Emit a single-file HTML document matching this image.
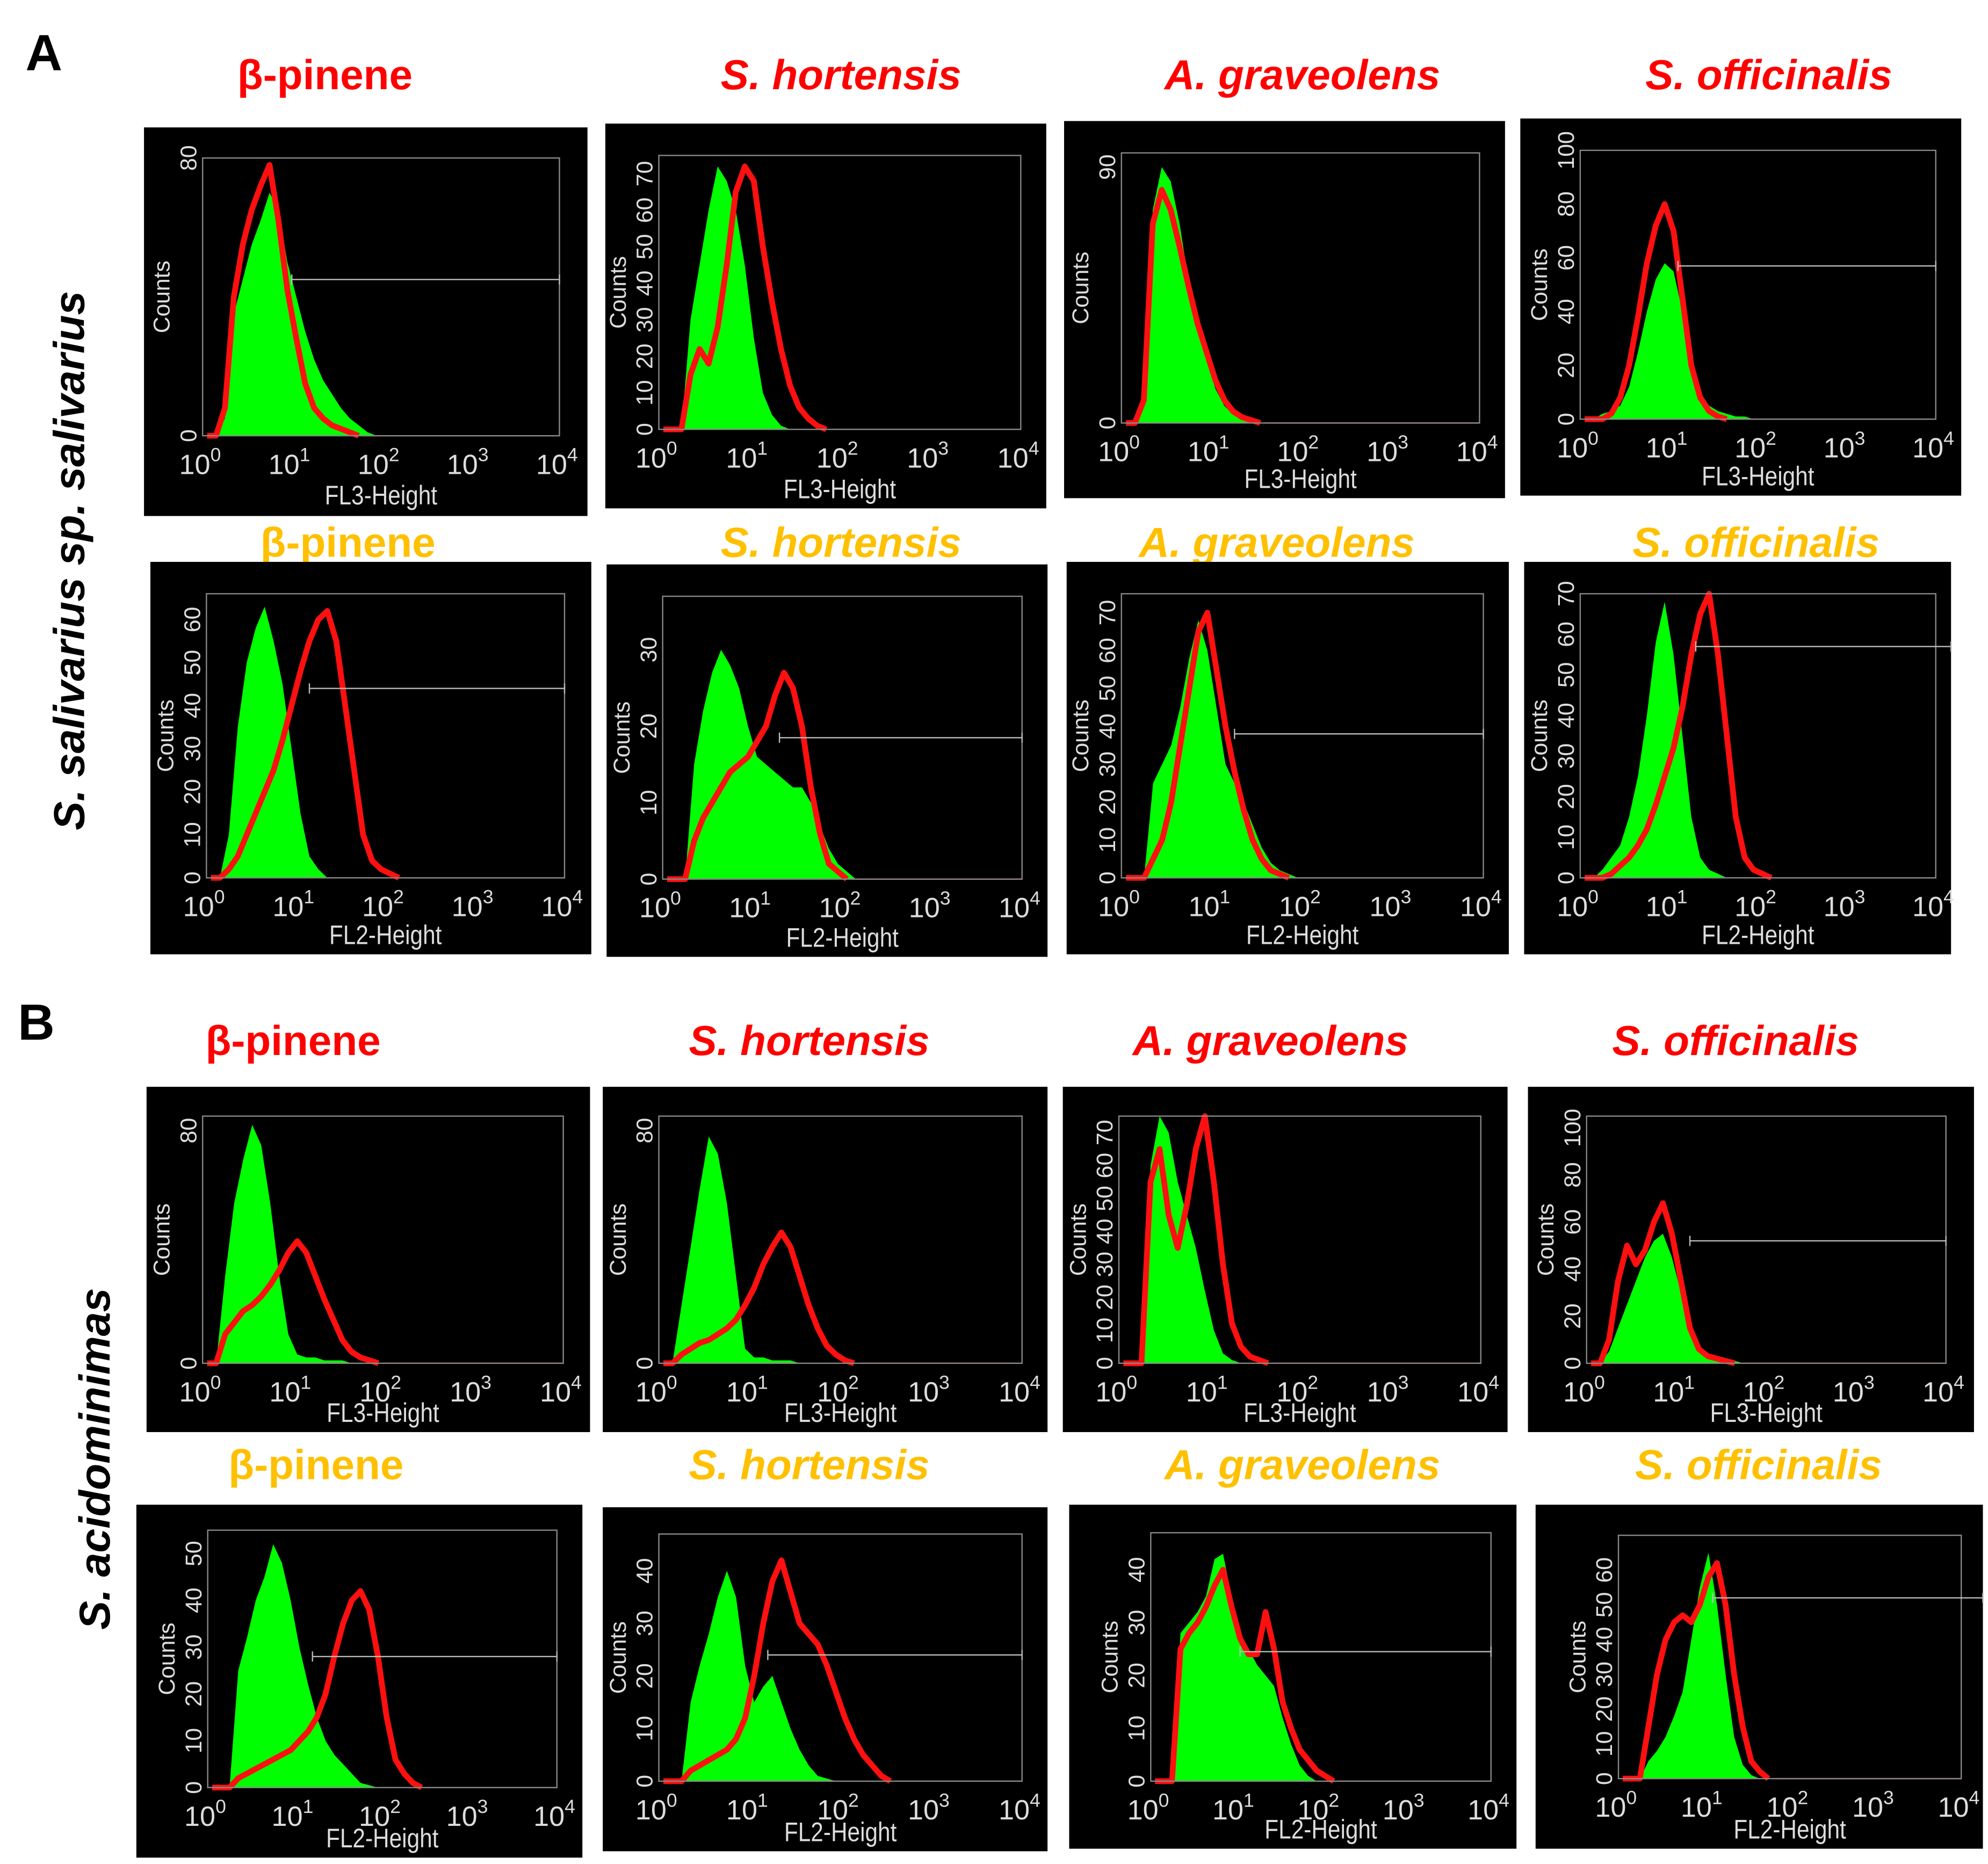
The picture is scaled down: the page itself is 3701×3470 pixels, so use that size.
<!DOCTYPE html>
<html><head><meta charset="utf-8"><style>
html,body{margin:0;padding:0;background:#fff;}
svg{display:block;}
</style></head><body>
<svg id="fig" xmlns="http://www.w3.org/2000/svg" width="3701" height="3470" viewBox="0 0 1560 1463" preserveAspectRatio="none">
<rect x="0" y="0" width="1560" height="1463" fill="#fff"/>
<text x="20" y="55" font-family="Liberation Sans, sans-serif" font-weight="bold" font-size="40" fill="#000">A</text>
<text x="14" y="816" font-family="Liberation Sans, sans-serif" font-weight="bold" font-size="40" fill="#000">B</text>
<text transform="translate(66,440) rotate(-90)" text-anchor="middle" font-family="Liberation Sans, sans-serif" font-weight="bold" font-style="italic" font-size="34" fill="#000">S. salivarius sp. salivarius</text>
<text transform="translate(86,1145) rotate(-90)" text-anchor="middle" font-family="Liberation Sans, sans-serif" font-weight="bold" font-style="italic" font-size="34" fill="#000">S. acidominimas</text>
<g id="panels"></g>
</svg>
<script>
// histogram data: counts per 0.1-decade bin, log10 from 0.0 to 4.0
const g1=[0,0,5,35,45,55,62,70,65,50,40,30,22,16,12,8,5,3,1,0];
const r1=[0,0,8,40,55,65,72,78,62,42,28,15,8,5,3,2,1,0];
const g2=[0,0,0,30,45,60,72,68,60,45,25,10,4,1,0];
const r2=[0,0,0,15,22,18,28,45,65,72,68,50,35,22,12,6,3,1,0];
const g3=[0,0,10,75,90,85,70,50,35,22,12,6,3,1,0];
const r3=[0,0,8,70,82,75,62,48,35,25,15,8,4,2,1,0];
const g4=[0,0,2,3,5,12,25,40,52,58,55,40,22,10,5,3,2,1,1,0];
const r4=[0,0,0,2,8,20,38,58,72,80,70,45,20,8,3,1,0];
const g5=[0,0,10,35,50,58,63,55,45,30,15,5,2,0];
const r5=[0,0,2,5,10,15,20,25,32,40,48,55,60,62,55,40,25,10,4,2,1,0];
const g6=[0,0,0,15,22,27,30,28,25,20,16,15,14,13,12,12,10,7,4,2,1,0];
const r6=[0,0,0,5,8,10,12,14,15,16,18,20,24,27,25,20,12,6,2,1,0];
const g7=[0,0,0,25,30,35,45,58,68,60,45,30,25,20,14,8,4,2,1,0];
const r7=[0,0,0,5,10,20,35,50,65,70,55,40,28,18,10,5,2,1,0];
const g8=[0,0,2,5,8,15,25,40,58,68,55,35,15,5,2,1,0];
const r8=[0,0,0,1,3,5,8,12,18,25,32,42,55,65,70,55,35,15,5,2,1,0];
const g9=[0,0,30,55,70,82,75,55,30,10,3,2,2,1,1,1,0];
const r9=[0,0,10,14,18,20,23,27,32,38,42,38,30,22,15,8,4,2,1,0];
const g10=[0,0,20,40,60,78,72,55,30,5,2,2,1,1,1,0];
const r10=[0,0,3,5,7,8,10,12,15,20,26,34,40,45,40,30,20,12,6,3,1,0];
const g11=[0,0,0,60,75,70,55,45,35,22,10,3,1,0];
const r11=[0,0,0,55,65,45,35,48,65,75,55,30,12,5,2,1,0];
const g12=[0,0,5,15,25,35,45,52,55,45,30,12,5,3,2,1,1,0];
const r12=[0,0,10,35,50,42,48,60,68,55,35,15,6,3,2,1,0];
const g13=[0,0,0,25,32,40,45,52,48,40,30,22,15,10,7,5,3,1,0.5,0];
const r13=[0,0,0,2,3,4,5,6,7,8,10,12,15,20,28,35,40,42,38,28,15,6,3,1,0];
const g14=[0,0,0,15,22,28,35,40,35,22,15,18,20,15,10,6,3,1,0.5,0];
const r14=[0,0,0,2,3,4,5,6,8,12,20,30,38,42,36,30,28,26,22,17,12,8,5,3,1,0];
const g15=[0,0,0,28,30,32,35,42,43,35,28,25,22,20,18,12,7,3,1,0];
const r15=[0,0,0,25,28,30,33,37,40,33,27,24,24,32,25,15,10,6,4,2,1,0];
const g16=[0,0,0,5,8,12,18,25,40,55,65,50,30,12,4,1,0];
const r16=[0,0,0,15,30,40,45,47,45,50,58,62,50,30,15,5,2,0];
const greens=[g1,g2,g3,g4,g5,g6,g7,g8,g9,g10,g11,g12,g13,g14,g15,g16];
const reds=[r1,r2,r3,r4,r5,r6,r7,r8,r9,r10,r11,r12,r13,r14,r15,r16];
const titles=["β-pinene","S. hortensis","A. graveolens","S. officinalis","β-pinene","S. hortensis","A. graveolens","S. officinalis","β-pinene","S. hortensis","A. graveolens","S. officinalis","β-pinene","S. hortensis","A. graveolens","S. officinalis"];
const yMaxes=[80,75,95,100,66,37,75,70,85,85,75,105,55,47,47,70];
const yTicks=[[0,80],[0,10,20,30,40,50,60,70],[0,90],[0,20,40,60,80,100],[0,10,20,30,40,50,60],[0,10,20,30],[0,10,20,30,40,50,60,70],[0,10,20,30,40,50,60,70],[0,80],[0,80],[0,10,20,30,40,50,60,70],[0,20,40,60,80,100],[0,10,20,30,40,50],[0,10,20,30,40],[0,10,20,30,40],[0,10,20,30,40,50,60]];
const gateLevels=[45,null,null,57,44,18.5,38,57,null,null,null,52,28,24,24.5,52];
const gateStarts=[1.0,null,null,1.1,1.15,1.3,1.25,1.3,null,null,null,1.15,1.2,1.2,1.05,1.1];
const gateEnds=[4,null,null,4,4,4,4,4.3,null,null,null,4,4,4,4,4.3];
// layout (display units)
const layout=[
 {box:[113,100,461,405],fr:[159,124,439,342],ty:58,tx:255},
 {box:[475,97,821,399],fr:[517,122,801,337],ty:58,tx:660},
 {box:[835,95,1181,391],fr:[880,120,1161,332],ty:58,tx:1022},
 {box:[1193,93,1539,389],fr:[1240,118,1519,329],ty:58,tx:1388},
 {box:[118,441,464,749],fr:[162,466,443,689],ty:425,tx:273},
 {box:[476,443,822,751],fr:[520,468,802,690],ty:425,tx:660},
 {box:[837,441,1184,749],fr:[880,466,1164,689],ty:425,tx:1002},
 {box:[1196,441,1531,749],fr:[1240,466,1519,689],ty:425,tx:1378},
 {box:[115,853,463,1124],fr:[159,876,442,1070],ty:816,tx:230},
 {box:[473,853,822,1124],fr:[517,876,802,1070],ty:816,tx:635},
 {box:[834,853,1183,1124],fr:[878,876,1162,1070],ty:816,tx:997},
 {box:[1199,853,1549,1124],fr:[1245,876,1527,1070],ty:816,tx:1362},
 {box:[107,1181,457,1458],fr:[163,1201,437,1403],ty:1149,tx:248},
 {box:[473,1183,822,1453],fr:[517,1204,802,1398],ty:1149,tx:635},
 {box:[839,1181,1190,1451],fr:[903,1203,1170,1398],ty:1149,tx:1022},
 {box:[1205,1181,1556,1451],fr:[1270,1205,1539,1396],ty:1149,tx:1380}
];
const NS="http://www.w3.org/2000/svg";
const root=document.getElementById('panels');
function mk(tag,attrs,parent){const e=document.createElementNS(NS,tag);for(const k in attrs)e.setAttribute(k,attrs[k]);parent.appendChild(e);return e;}
layout.forEach((L,i)=>{
 const fl = (i<4||(i>=8&&i<12))?'FL3-Height':'FL2-Height';
 const redTitle=(i<4||(i>=8&&i<12));
 const g=mk('g',{},root);
 
 
 const t=mk('text',{x:L.tx,y:L.ty+12,'text-anchor':'middle','font-family':'Liberation Sans, sans-serif','font-weight':'bold','font-style':i%4===0?'normal':'italic','font-size':33,fill:redTitle?'#ff0000':'#ffc000'},g);
 t.textContent=titles[i];
 
 
 const bg=mk('rect',{x:L.box[0],y:L.box[1],width:L.box[2]-L.box[0],height:L.box[3]-L.box[1],fill:'#000'},g);
 
 
 const [x1,y1,x2,y2]=L.fr;
 const xs=v=>x1+(x2-x1)*v/4;
 const ys=c=>y2-(y2-y1)*Math.min(c,yMaxes[i])/yMaxes[i];
 const gd=greens[i];
 let pts=[xs(0)+','+y2];
 gd.forEach((c,k)=>{pts.push(xs(k*0.1+0.05)+','+ys(c));});
 pts.push(xs(gd.length*0.1)+','+y2);
 const ga=mk('polygon',{points:pts.join(' '),fill:'#00ff00'},g);
 
 
 const rd=reds[i];
 let rp=[];
 rd.forEach((c,k)=>{rp.push(xs(k*0.1+0.05)+','+ys(c));});
 const rl=mk('polyline',{points:rp.join(' '),fill:'none',stroke:'#ff1010','stroke-width':4.5,'stroke-linejoin':'round'},g);
 
 
 const bl=mk('line',{x1:xs(rd.length*0.1),x2:x2,y1:y2,y2:y2,stroke:'#ff4040','stroke-width':1},g);
 
 
 const fr=mk('rect',{x:x1,y:y1,width:x2-x1,height:y2-y1,fill:'none',stroke:'#888','stroke-width':1},g);
 
 
 if(gateLevels[i]!==null){
  const gy=ys(gateLevels[i]), gx1=xs(gateStarts[i]), gx2=Math.min(xs(gateEnds[i]),L.box[2]);
  const gl=mk('path',{d:`M${gx1},${gy-4}V${gy+4}M${gx1},${gy}H${gx2}M${gx2},${gy-4}V${gy+4}`,stroke:'#bbb','stroke-width':1,fill:'none'},g);
  
  
 }
 yTicks[i].forEach(v=>{
  const tt=mk('text',{transform:`translate(${x1-5},${ys(v)}) rotate(-90)`,'text-anchor':'middle','font-family':'Liberation Sans, sans-serif','font-size':18,fill:'#ddd'},g);
  tt.textContent=v;
  
  
 });
 const cl=mk('text',{transform:`translate(${x1-26},${(y1+y2)/2}) rotate(-90)`,'text-anchor':'middle','font-family':'Liberation Sans, sans-serif','font-size':18,fill:'#ddd'},g);
 cl.textContent='Counts';
 
 
 for(let d=0;d<=4;d++){
  const xt=mk('text',{x:xs(d)-2,y:y2+30,'text-anchor':'middle','font-family':'Liberation Sans, sans-serif','font-size':22,fill:'#ddd'},g);
  xt.textContent='10';
  const sup=mk('tspan',{dy:-10,'font-size':15},xt);
  sup.textContent=String(d);
  
  
 }
 const ly=Math.min(y2+54,L.box[3]-8);
 const xl=mk('text',{x:(x1+x2)/2,y:ly,'text-anchor':'middle','font-family':'Liberation Sans, sans-serif','font-size':21,fill:'#ddd',transform:`translate(${(x1+x2)/2*0.15},0) scale(0.85,1)`},g);
 xl.textContent=fl;
 
 
});
</script>
</body></html>
